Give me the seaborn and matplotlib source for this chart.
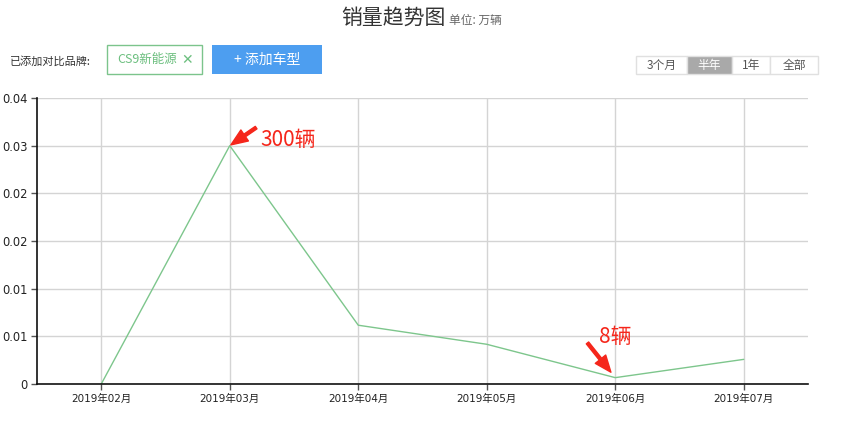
import matplotlib
matplotlib.use("Agg")
import matplotlib.pyplot as plt
import matplotlib.patches as patches
from matplotlib.ticker import FuncFormatter
import pandas as pd
import seaborn as sns

# data (unit: 万辆)
months = ["2019年02月", "2019年03月", "2019年04月", "2019年05月", "2019年06月", "2019年07月"]
sales = [0.0, 0.03, 0.0074, 0.005, 0.0008, 0.0031]
y_ticks = [0, 0.006, 0.012, 0.018, 0.024, 0.03, 0.036]
periods = ["3个月", "半年", "1年", "全部"]

sns.set_theme(style="white")
plt.rcParams["font.family"] = ["Noto Sans CJK SC", "DejaVu Sans"]
tick_font = ["DejaVu Sans", "Noto Sans CJK SC"]

df = pd.DataFrame({"month": months, "sales": sales})
df["pos"] = range(len(df))

fig = plt.figure(figsize=(8.48, 4.28), dpi=100)
fig.patch.set_facecolor("white")
W, H = 848.0, 428.0


def fx(px):
    return px / W


def fy(py):
    return 1 - py / H


ax = fig.add_axes([fx(37), fy(384), fx(808) - fx(37), fy(98) - fy(384)])

sns.lineplot(data=df, x="pos", y="sales", color="#7dc68c", linewidth=1, ax=ax)

ax.set_xlim(-0.5, len(months) - 0.5)
ax.set_ylim(0, 0.036)
ax.set_xticks(range(len(months)))
ax.set_xticklabels(months, fontsize=7.5, family=tick_font, color="#222")
ax.set_yticks(y_ticks)
ax.yaxis.set_major_formatter(FuncFormatter(lambda v, p: "0" if v == 0 else "%.2f" % v))
for lab in ax.get_yticklabels():
    lab.set_family(tick_font)
    lab.set_fontsize(8.3)
    lab.set_color("#222")
ax.set_xlabel("")
ax.set_ylabel("")
ax.grid(True, color="#d4d4d4", linewidth=1)
ax.set_axisbelow(True)
for s in ["top", "right"]:
    ax.spines[s].set_visible(False)
for s in ["left", "bottom"]:
    ax.spines[s].set_color("#111")
    ax.spines[s].set_linewidth(1.2)
ax.tick_params(axis="both", which="both", length=4, width=1, color="#555",
               left=True, bottom=True, pad=3)

# annotations
red = "#f5261b"
arrow = dict(arrowstyle="simple,head_length=1.0,head_width=0.8,tail_width=0.18",
             color=red, shrinkA=0, shrinkB=1)
ax.annotate("", xy=(1, sales[1]), xytext=(19, 13), textcoords="offset points",
            arrowprops=arrow)
ax.annotate("300辆", xy=(1, sales[1]), xytext=(22, 4), textcoords="offset points",
            color=red, fontsize=15, va="center", ha="left")
arrow2 = dict(arrow, shrinkB=5)
ax.annotate("", xy=(4, sales[4]), xytext=(-20, 25), textcoords="offset points",
            arrowprops=arrow2)
ax.annotate("8辆", xy=(4, sales[4]), xytext=(-12, 29), textcoords="offset points",
            color=red, fontsize=15, va="center", ha="left")

# header
fig.text(fx(341), fy(18), "销量趋势图", fontsize=15, color="#333", va="center", ha="left")
fig.text(fx(449), fy(20), "单位: 万辆", fontsize=8.5, color="#666", va="center", ha="left")
fig.text(fx(10), fy(61), "已添加对比品牌:", fontsize=8, color="#333", va="center", ha="left")

fig.patches.append(patches.Rectangle((fx(107), fy(74)), fx(202) - fx(107), fy(45) - fy(74),
                                     transform=fig.transFigure, facecolor="white",
                                     edgecolor="#7cc48c", linewidth=1))
fig.text(fx(117), fy(60), "CS9新能源", fontsize=9, color="#6cbf7f", va="center", ha="left")
fig.text(fx(181), fy(60), "✕", fontsize=10, color="#6cbf7f", va="center", ha="left",
         family=["DejaVu Sans"])

fig.patches.append(patches.Rectangle((fx(212), fy(74)), fx(322) - fx(212), fy(45) - fy(74),
                                     transform=fig.transFigure, facecolor="#4d9ef0",
                                     edgecolor="none"))
fig.text(fx(267), fy(60), "+ 添加车型", fontsize=10, color="white", va="center", ha="center")

edges = [636, 687, 732, 770, 818]
for i, name in enumerate(periods):
    sel = name == "半年"
    fig.patches.append(patches.Rectangle((fx(edges[i]), fy(74)), fx(edges[i + 1]) - fx(edges[i]),
                                         fy(56) - fy(74), transform=fig.transFigure,
                                         facecolor="#a9a9a9" if sel else "white",
                                         edgecolor="#e0e0e0", linewidth=1))
    fig.text(fx((edges[i] + edges[i + 1]) / 2), fy(65), name, fontsize=8.5,
             color="white" if sel else "#555", va="center", ha="center")

fig.savefig("out.png", dpi=100, facecolor="white")
